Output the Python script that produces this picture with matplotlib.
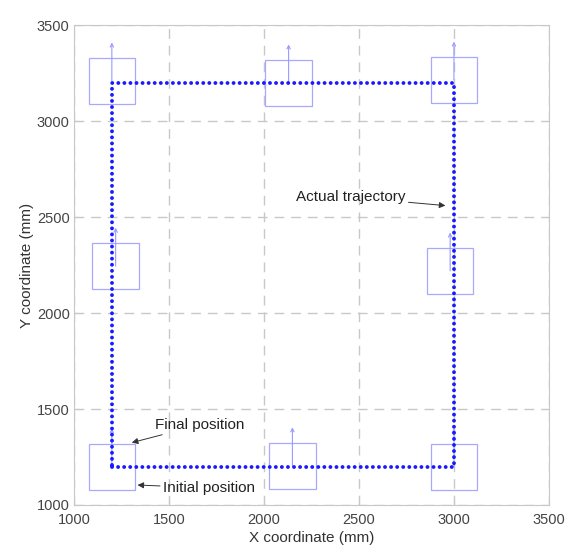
import matplotlib.pyplot as plt
from matplotlib.patches import Rectangle

# trajectory corners (mm)
traj_x = [1200, 3000, 3000, 1200, 1200]
traj_y = [1200, 1200, 3200, 3200, 1200]

# robot snapshots along the path (centre, mm)
robot_x = [1200, 2130, 3000, 1220, 2980, 1200, 2150, 3000]
robot_y = [3210, 3200, 3215, 2245, 2220, 1200, 1205, 1200]
robot_w = 245
robot_h = 240
heading_len = 200

ticks = [1000, 1500, 2000, 2500, 3000, 3500]

plt.rcParams['font.family'] = ['Liberation Sans', 'DejaVu Sans']

fig = plt.figure(figsize=(5.68, 5.48), dpi=100)
ax = fig.add_axes([0.130, 0.0785, 0.8365, 0.8755])

# robot boxes and heading arrows
for cx, cy in zip(robot_x, robot_y):
    ax.add_patch(Rectangle((cx - robot_w / 2, cy - robot_h / 2), robot_w, robot_h,
                           fill=False, edgecolor='#a8a8ff', lw=0.9, zorder=2))
    ax.annotate('', xy=(cx, cy + heading_len), xytext=(cx, cy),
                arrowprops=dict(arrowstyle='->', color='#9a9aff', lw=0.8,
                                mutation_scale=6, shrinkA=0, shrinkB=0), zorder=2)

# dotted trajectory
ax.plot(traj_x, traj_y, color='#1a1aff', lw=2.8,
        linestyle=(0, (0.01, 1.55)), dash_capstyle='round', zorder=3)

ax.set_xlim(1000, 3500)
ax.set_ylim(1000, 3500)
ax.set_xticks(ticks)
ax.set_yticks(ticks)
ax.grid(True, color='#c8c8c8', linestyle=(0, (7, 5)), lw=1.0)
ax.set_axisbelow(True)
for sp in ax.spines.values():
    sp.set_color('#c8c8c8')
ax.tick_params(direction='in', length=4, colors='#c8c8c8', labelcolor='#444444',
               labelsize=10.5)
ax.tick_params(axis='x', pad=6)
ax.tick_params(axis='y', pad=3)

ax.set_xlabel('X coordinate (mm)', fontsize=11, color='#333333', labelpad=3)
ax.set_ylabel('Y coordinate (mm)', fontsize=11, color='#333333', labelpad=2)

arr = dict(arrowstyle='-|>', color='#333333', lw=0.7, mutation_scale=9,
           shrinkA=0, shrinkB=0)
ax.annotate('Actual trajectory', xy=(2955, 2560), xytext=(2170, 2604),
            fontsize=11, color='#222222', va='center', arrowprops=arr)
ax.annotate('Final position', xy=(1305, 1325), xytext=(1428, 1417),
            fontsize=11, color='#222222', va='center', arrowprops=arr)
ax.annotate('Initial position', xy=(1335, 1104), xytext=(1468, 1089),
            fontsize=11, color='#222222', va='center', arrowprops=arr)

fig.savefig('out.png', dpi=100, facecolor='white')
